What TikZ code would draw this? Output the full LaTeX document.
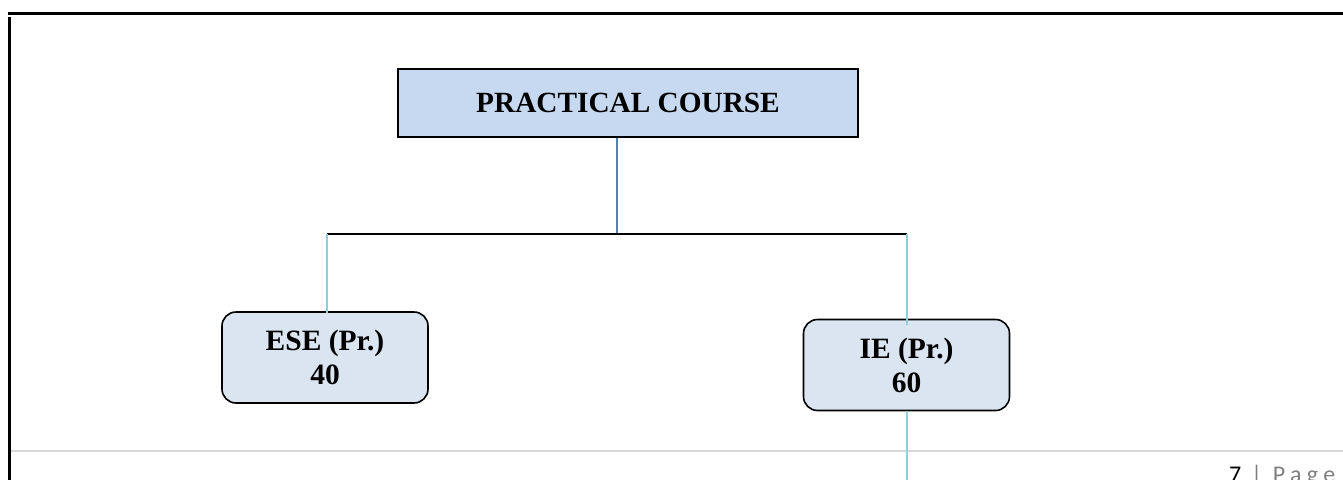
\documentclass[tikz,border=0pt]{standalone}
\usepackage{fontspec}
\setmainfont{Liberation Serif}
\newfontfamily\pagefont[LetterSpace=22]{Carlito}
\newfontfamily\numfont{Carlito}
\definecolor{mainfill}{HTML}{C6D9F1}
\definecolor{subfill}{HTML}{DBE5F1}
\definecolor{darkblue}{HTML}{4F81BD}
\definecolor{lightcyan}{HTML}{92CDDC}
\definecolor{footgray}{HTML}{D9D9D9}
\definecolor{textgray}{HTML}{7F7F7F}
\tikzset{
  mainbox/.style={draw=black, line width=1.6pt, fill=mainfill, minimum width=460pt, minimum height=68pt, inner sep=0pt, font=\fontsize{29.3}{34}\selectfont\bfseries},
  subbox/.style={draw=black, line width=1.6pt, fill=subfill, rounded corners=14pt, minimum width=206pt, minimum height=91pt, inner sep=0pt, align=center, font=\fontsize{29.5}{34}\selectfont\bfseries},
  bluelink/.style={draw=darkblue, line width=1.8pt},
  cyanlink/.style={draw=lightcyan, line width=2pt},
  blacklink/.style={draw=black, line width=1.4pt},
}
\begin{document}
\begin{tikzpicture}[x=1pt,y=-1pt]
\useasboundingbox (0,0) rectangle (1343,479);
% page borders
\draw[line width=3pt] (8,13) -- (1343,13);
\draw[line width=3pt] (9,17) -- (9,480);
\draw[footgray, line width=2pt] (11,451) -- (1343,451);
% nodes
\node[mainbox] (pc) at (628,103) {PRACTICAL COURSE};
\node[subbox] (ese) at (325,357.5) {ESE (Pr.)\\40};
\node[subbox] (ie) at (906.5,365) {IE (Pr.)\\60};
\coordinate (mid) at (617,234);
\coordinate (lft) at (327,234);
\coordinate (rgt) at (907,234);
\coordinate (bot) at (907,485);
% connectors
\draw[bluelink] (pc.south -| mid) -- (mid);
\draw[blacklink] (lft) -- (rgt);
\draw[cyanlink] (lft) -- ([yshift=-2pt]ese.north -| lft);
\draw[cyanlink] (rgt) -- ([yshift=-6pt]ie.north -| rgt);
\draw[cyanlink] (ie.south -| rgt) -- (bot);
% footer
\node[anchor=base west, inner sep=0pt, font=\numfont\fontsize{24}{26}\selectfont] (pnum) at (1229,482) {7};
\node[anchor=base west, inner sep=0pt, text=textgray, font=\pagefont\fontsize{24}{26}\selectfont] (pword) at (1251,482) {| Page};
\end{tikzpicture}
\end{document}
